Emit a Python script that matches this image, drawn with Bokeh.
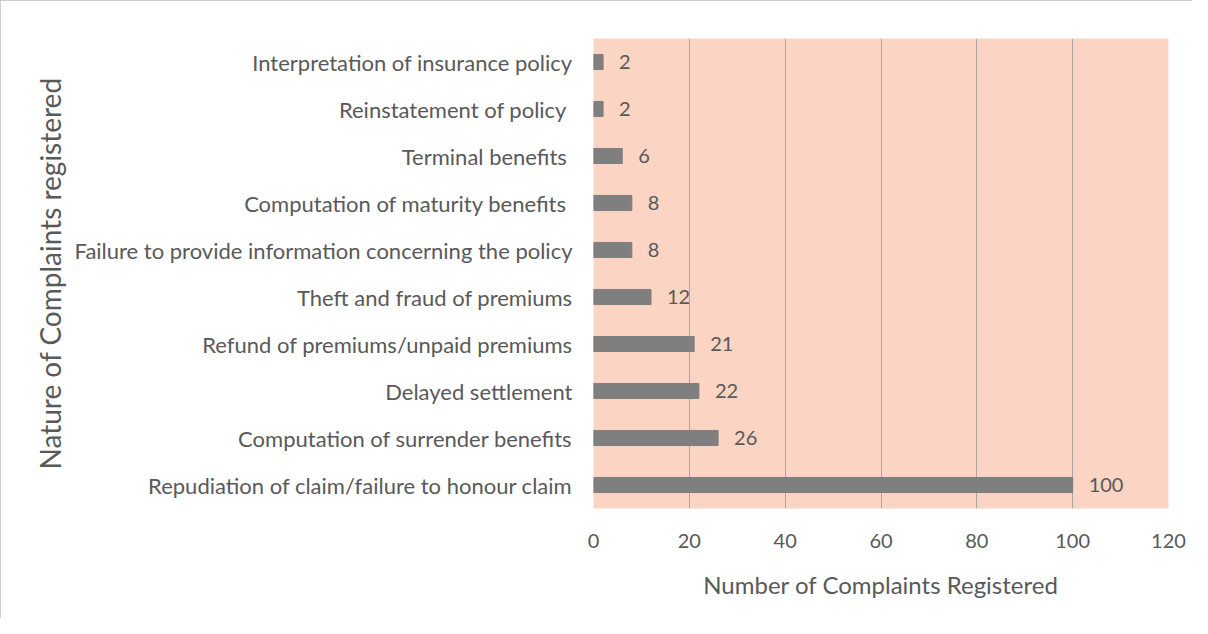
from bokeh.plotting import figure
from bokeh.models import Range1d, FactorRange, ColumnDataSource, FixedTicker
from bokeh.core.properties import value
from bokeh.embed import file_html
from bokeh.resources import INLINE

categories = [
    "Repudiation of claim/failure to honour claim",
    "Computation of surrender benefits",
    "Delayed settlement",
    "Refund of premiums/unpaid premiums",
    "Theft and fraud of premiums",
    "Failure to provide information concerning the policy",
    "Computation of maturity benefits ",
    "Terminal benefits ",
    "Reinstatement of policy ",
    "Interpretation of insurance policy",
]
counts = [100, 26, 22, 21, 12, 8, 8, 6, 2, 2]
x_ticks = [0, 20, 40, 60, 80, 100, 120]

FONT = "Lato"
TXT = "#595959"

src = ColumnDataSource(dict(cat=categories, n=counts, lbl=[str(v) for v in counts]))

p = figure(
    width=1192, height=618,
    y_range=FactorRange(*categories), x_range=Range1d(0, 120),
    output_backend="svg", toolbar_location=None,
    min_border_left=593, min_border_right=24, min_border_top=38, min_border_bottom=110,
)
p.styles = {"outline": "1px solid #bfbfbf", "outline-offset": "-1px"}
p.background_fill_color = "#FBD4C3"
p.border_fill_color = "white"
p.outline_line_color = None

p.hbar(y="cat", right="n", left=0, height=0.32, source=src, color="#7f7f7f")
p.text(x="n", y="cat", text="lbl", source=src, x_offset=16, text_align="left",
       text_baseline="middle", text_color=TXT, text_font=value(FONT), text_font_size="20px")

p.xgrid.grid_line_color = "#a6a6a6"
p.xgrid.ticker = FixedTicker(ticks=x_ticks)
p.ygrid.grid_line_color = None

p.xaxis.ticker = FixedTicker(ticks=x_ticks)
p.xaxis.axis_line_color = None
p.xaxis.major_tick_line_color = None
p.xaxis.minor_tick_line_color = None
p.xaxis.major_label_standoff = 19
p.xaxis.major_label_text_font = FONT
p.xaxis.major_label_text_font_size = "20px"
p.xaxis.major_label_text_color = TXT
p.xaxis.axis_label = "Number of Complaints Registered"
p.xaxis.axis_label_text_font = FONT
p.xaxis.axis_label_text_font_size = "24px"
p.xaxis.axis_label_text_font_style = "normal"
p.xaxis.axis_label_text_color = TXT
p.xaxis.axis_label_standoff = 19

p.yaxis.axis_line_color = None
p.yaxis.major_tick_line_color = None
p.yaxis.minor_tick_line_color = None
p.yaxis.major_label_standoff = 15
p.yaxis.major_label_text_font = FONT
p.yaxis.major_label_text_font_size = "22px"
p.yaxis.major_label_text_color = TXT
p.yaxis.axis_label = "Nature of Complaints registered"
p.yaxis.axis_label_text_font = FONT
p.yaxis.axis_label_text_font_size = "28px"
p.yaxis.axis_label_text_font_style = "normal"
p.yaxis.axis_label_text_color = TXT
p.yaxis.axis_label_standoff = 5

open("out.html", "w").write(file_html(p, INLINE))
